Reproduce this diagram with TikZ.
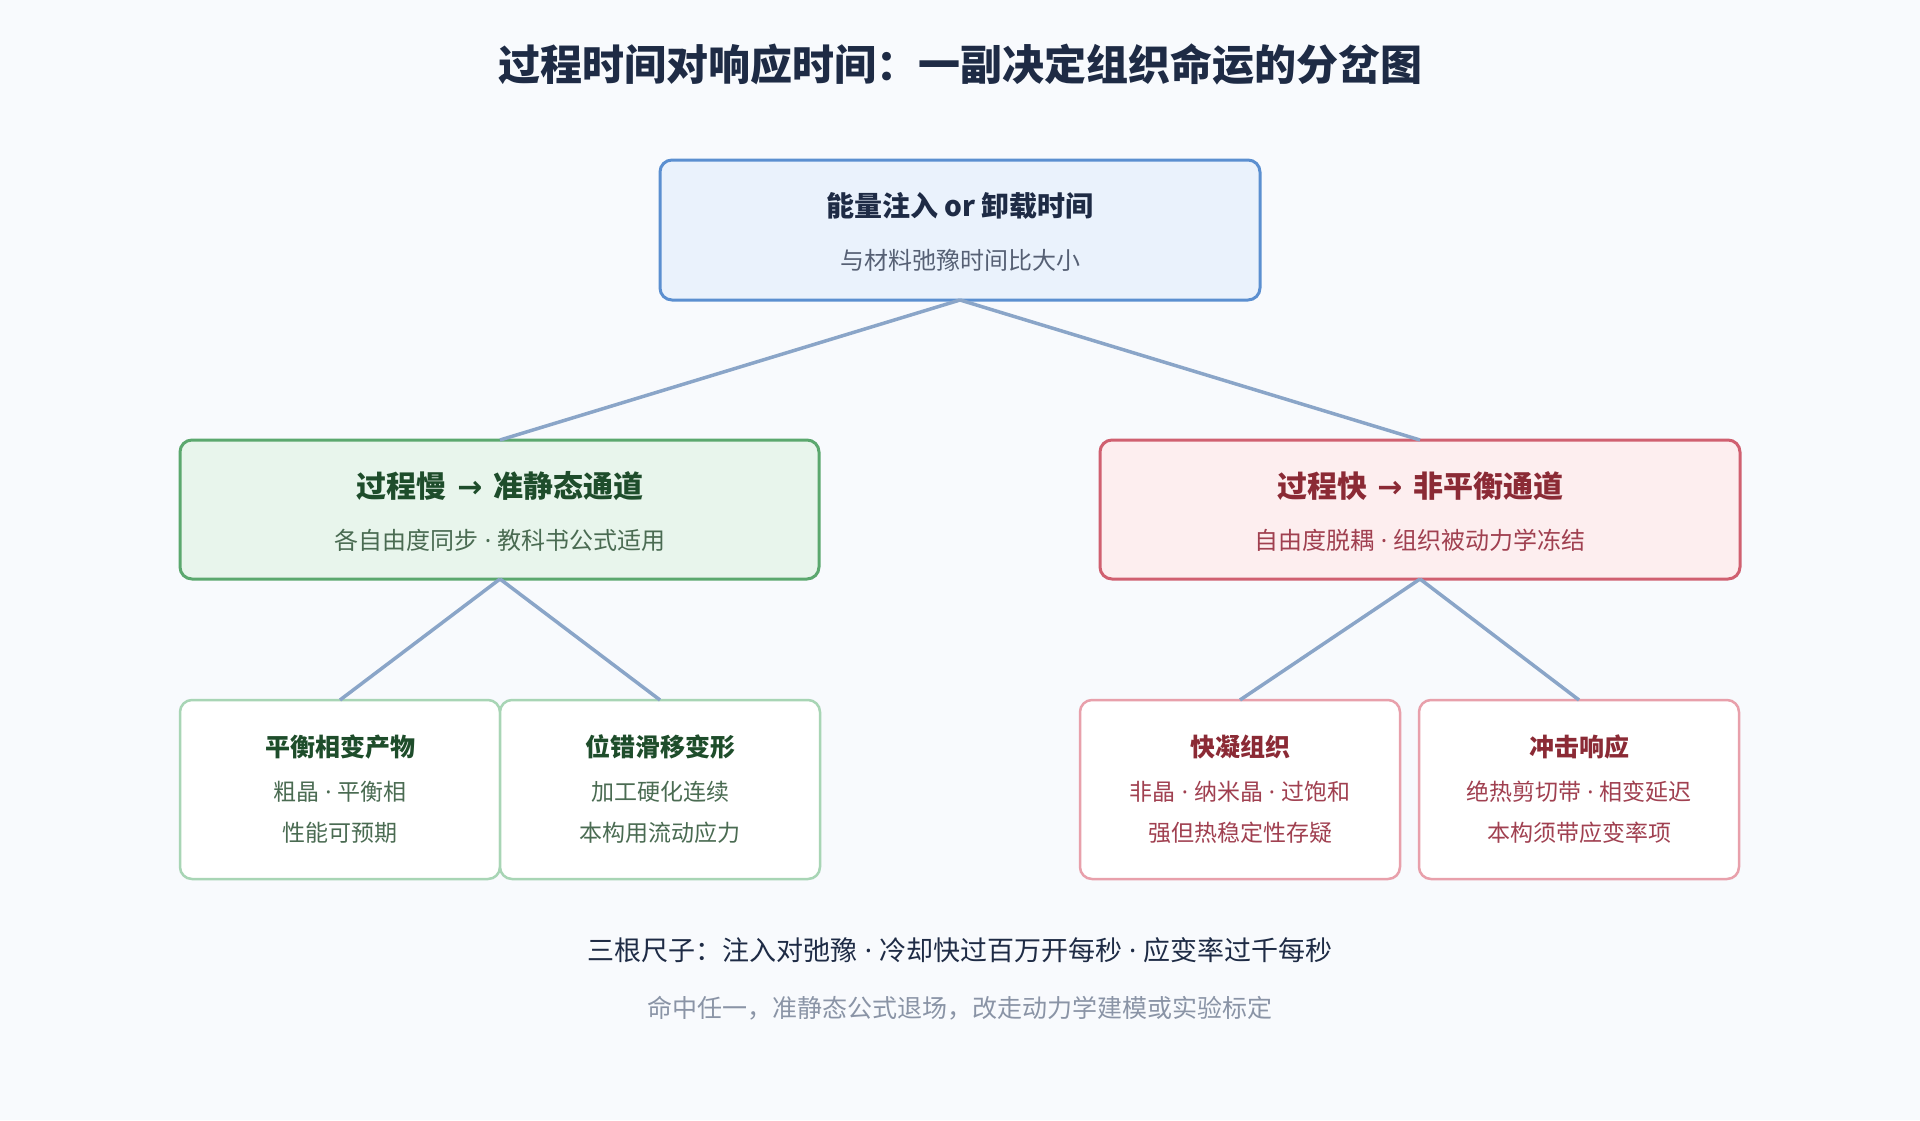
\documentclass[tikz,border=0pt]{standalone}
\usepackage{fontspec}
\setmainfont{Noto Sans CJK SC}
\newfontfamily\latinfont{Noto Sans}
\newfontfamily\symfont{DejaVu Sans}
\newcommand{\sep}{{\latinfont\ ·\ }}
\newcommand{\toarrow}{{\symfont\ →\ }}
\definecolor{bgcol}{HTML}{F8FAFD}
\definecolor{navy}{HTML}{1E2B45}
\definecolor{link}{HTML}{8AA5C8}
\definecolor{bluefill}{HTML}{EAF2FC}
\definecolor{blueline}{HTML}{5B8FD0}
\definecolor{greenfill}{HTML}{E8F5EC}
\definecolor{greenline}{HTML}{5BA86E}
\definecolor{greenleaf}{HTML}{A8D5B5}
\definecolor{greentext}{HTML}{1E4D2B}
\definecolor{greenbody}{HTML}{4A6B52}
\definecolor{redfill}{HTML}{FDEEEF}
\definecolor{redline}{HTML}{D06070}
\definecolor{redleaf}{HTML}{E8A0AB}
\definecolor{redtext}{HTML}{8B2A35}
\definecolor{redbody}{HTML}{A04050}
\definecolor{greytext}{HTML}{8A94A6}
\tikzset{
  box/.style={draw, line width=3pt, rounded corners=12pt, anchor=north west},
  leaf/.style={draw, line width=2.5pt, rounded corners=12pt, fill=white},
  link/.style={draw=link, line width=3.5pt},
  head/.style={font=\fontsize{28}{32}\selectfont\bfseries},
  mhead/.style={font=\fontsize{30}{34}\selectfont\bfseries},
  sub/.style={font=\fontsize{24}{27}\selectfont},
  lhead/.style={font=\fontsize{25}{28}\selectfont\bfseries},
  lsub/.style={font=\fontsize{23}{26}\selectfont},
}
\begin{document}
\begin{tikzpicture}[x=1pt, y=-1pt]
\fill [bgcol] (0, 0) rectangle (1920, 1120);
\node [font=\fontsize{42}{46}\selectfont\bfseries, text=navy] (title) at (960, 64) {过程时间对响应时间：一副决定组织命运的分岔图};

% root and branches
\draw [box, draw=blueline, fill=bluefill] (660, 160) rectangle (1260, 300);
\coordinate (root) at (960, 300);
\node [head, text=navy] (rootT) at (960, 206) {能量注入 or 卸载时间};
\node [sub, text=navy!75] (rootS) at (960, 260) {与材料弛豫时间比大小};

\draw [box, draw=greenline, fill=greenfill] (180, 440) rectangle (819, 579);
\coordinate (slowTop) at (500, 440);
\coordinate (slow) at (500, 579);
\node [mhead, text=greentext] (slowT) at (500, 486) {过程慢\toarrow 准静态通道};
\node [sub, text=greenbody] (slowS) at (500, 540) {各自由度同步\sep 教科书公式适用};

\draw [box, draw=redline, fill=redfill] (1100, 440) rectangle (1740, 579);
\coordinate (fastTop) at (1420, 440);
\coordinate (fast) at (1420, 579);
\node [mhead, text=redtext] (fastT) at (1420, 486) {过程快\toarrow 非平衡通道};
\node [sub, text=redbody] (fastS) at (1420, 540) {自由度脱耦\sep 组织被动力学冻结};

\draw [link] (root) -- (slowTop);
\draw [link] (root) -- (fastTop);

% leaves
\foreach \name/\x/\lc/\tc/\bc/\t/\a/\b in {
  eq/180/greenleaf/greentext/greenbody/平衡相变产物/粗晶\sep 平衡相/性能可预期,
  slip/500/greenleaf/greentext/greenbody/位错滑移变形/加工硬化连续/本构用流动应力,
  quench/1080/redleaf/redtext/redbody/快凝组织/非晶\sep 纳米晶\sep 过饱和/强但热稳定性存疑,
  shock/1419/redleaf/redtext/redbody/冲击响应/绝热剪切带\sep 相变延迟/本构须带应变率项
  } {
  \draw [leaf, draw=\lc] (\x, 700) rectangle ++(320, 179);
  \coordinate (\name) at (\x + 160, 700);
  \node [lhead, text=\tc] at (\x + 160, 747) {\t};
  \node [lsub, text=\bc] at (\x + 160, 792) {\a};
  \node [lsub, text=\bc] at (\x + 160, 833) {\b};
}
\draw [link] (slow) -- (eq);
\draw [link] (slow) -- (slip);
\draw [link] (fast) -- (quench);
\draw [link] (fast) -- (shock);

\node [font=\fontsize{27}{30}\selectfont, text=navy] (rule) at (960, 950) {三根尺子：注入对弛豫\sep 冷却快过百万开每秒\sep 应变率过千每秒};
\node [font=\fontsize{25}{28}\selectfont, text=greytext] (note) at (960, 1008) {命中任一，准静态公式退场，改走动力学建模或实验标定};
\end{tikzpicture}
\end{document}
